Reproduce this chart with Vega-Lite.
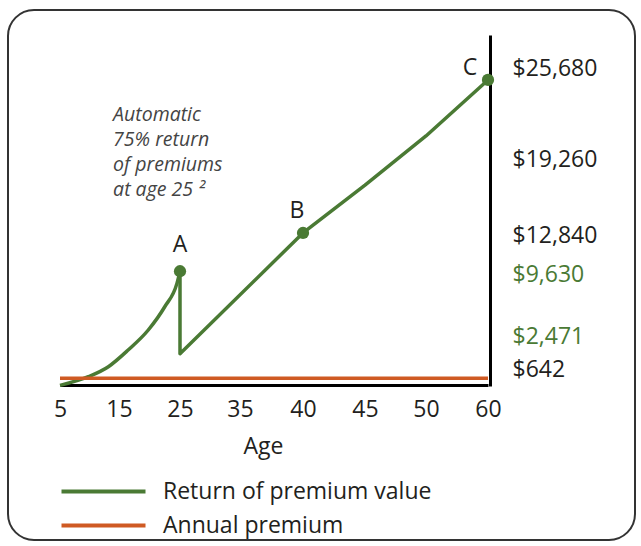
{
  "$schema": "https://vega.github.io/schema/vega-lite/v6.json",
  "width": 627,
  "height": 530,
  "autosize": {"type": "none"},
  "padding": {"left": 8, "top": 10, "right": 6, "bottom": 6},
  "background": "white",
  "config": {
    "view": {"stroke": "#333333", "strokeWidth": 2, "cornerRadius": 26},
    "font": "Open Sans"
  },
  "datasets": {
    "curve": [
      {"series": "Return of premium value", "age": 5, "value": 50},
      {"series": "Return of premium value", "age": 9.8, "value": 780},
      {"series": "Return of premium value", "age": 13.2, "value": 1620},
      {"series": "Return of premium value", "age": 16.5, "value": 3020},
      {"series": "Return of premium value", "age": 19.8, "value": 4700},
      {"series": "Return of premium value", "age": 22.5, "value": 6650},
      {"series": "Return of premium value", "age": 24.5, "value": 8610},
      {"series": "Return of premium value", "age": 25, "value": 9630}
    ],
    "lines": [
      {"series": "Return of premium value", "age": 25, "value": 9630, "step": 1},
      {"series": "Return of premium value", "age": 25, "value": 2700, "step": 2},
      {"series": "Return of premium value", "age": 40, "value": 12840, "step": 3},
      {"series": "Return of premium value", "age": 45, "value": 16850, "step": 4},
      {"series": "Return of premium value", "age": 50, "value": 20980, "step": 5},
      {"series": "Return of premium value", "age": 60, "value": 25680, "step": 6},
      {"series": "Annual premium", "age": 5, "value": 642, "step": 1},
      {"series": "Annual premium", "age": 60, "value": 642, "step": 2}
    ],
    "points": [
      {"label": "A", "age": 25, "value": 9630},
      {"label": "B", "age": 40, "value": 12840},
      {"label": "C", "age": 60, "value": 25680}
    ],
    "note": [
      {"age": 14, "value": 22240, "text": "Automatic\n75% return\nof premiums\nat age 25 ²"}
    ]
  },
  "encoding": {
    "x": {
      "field": "age",
      "type": "quantitative",
      "scale": {"domain": [5, 15, 25, 35, 40, 45, 50, 60], "range": [52, 111, 172, 232, 295, 357, 418, 480], "nice": false, "zero": false},
      "axis": {
        "orient": "bottom",
        "offset": -155,
        "values": [5, 15, 25, 35, 40, 45, 50, 60],
        "grid": false,
        "ticks": false,
        "domainColor": "#000000",
        "domainWidth": 3,
        "labelFontSize": 23,
        "labelColor": "#231f20",
        "labelPadding": 13,
        "labelFlush": false,
        "labelOverlap": false,
        "title": "Age",
        "titleFontSize": 23,
        "titleFontWeight": "normal",
        "titleColor": "#231f20",
        "titlePadding": 14,
        "titleX": 255,
        "titleAnchor": null
      }
    },
    "y": {
      "field": "value",
      "type": "quantitative",
      "scale": {"domain": [0, 29450], "range": [376, 25], "nice": false, "zero": false},
      "axis": {
        "orient": "right",
        "offset": -145,
        "values": [642, 2471, 9630, 12840, 19260, 25680],
        "format": "$,d",
        "grid": false,
        "ticks": false,
        "domainColor": "#000000",
        "domainWidth": 3,
        "labelFontSize": 23,
        "labelAlign": "left",
        "labelBaseline": "middle",
        "labelPadding": 22,
        "labelOverlap": false,
        "labelColor": {"condition": {"test": "datum.value == 9630 || datum.value == 2471", "value": "#4a7a34"}, "value": "#231f20"},
        "labelOffset": {
          "condition": [
            {"test": "datum.value == 2471", "value": -20},
            {"test": "datum.value == 642", "value": -9},
            {"test": "datum.value == 25680", "value": -11}
          ],
          "value": 3
        },
        "title": null
      }
    }
  },
  "layer": [
    {
      "data": {"name": "curve"},
      "mark": {"type": "line", "strokeWidth": 3.5, "strokeJoin": "round", "interpolate": "monotone"},
      "encoding": {
        "color": {
          "field": "series",
          "type": "nominal",
          "scale": {"domain": ["Return of premium value", "Annual premium"], "range": ["#4a7a34", "#cf5a23"]},
          "legend": {
            "orient": "none",
            "legendX": 84,
            "legendY": 470,
            "direction": "vertical",
            "title": null,
            "symbolType": "M-6,0H6",
            "symbolSize": 196,
            "symbolStrokeWidth": 4,
            "labelFontSize": 23,
            "labelColor": "#231f20",
            "labelLimit": 400,
            "labelOffset": 48,
            "rowPadding": 10,
            "padding": 0
          }
        }
      }
    },
    {
      "data": {"name": "lines"},
      "mark": {"type": "line", "strokeWidth": 3.5, "strokeJoin": "round"},
      "encoding": {
        "order": {"field": "step", "type": "quantitative"},
        "color": {"field": "series", "type": "nominal"}
      }
    },
    {
      "data": {"name": "points"},
      "mark": {"type": "point", "filled": true, "opacity": 1, "size": 150, "color": "#4a7a34"}
    },
    {
      "data": {"name": "points"},
      "transform": [{"filter": "datum.label == 'A'"}],
      "mark": {"type": "text", "fontSize": 23, "color": "#231f20", "dy": -26},
      "encoding": {"text": {"field": "label"}}
    },
    {
      "data": {"name": "points"},
      "transform": [{"filter": "datum.label == 'B'"}],
      "mark": {"type": "text", "fontSize": 23, "color": "#231f20", "dx": -6, "dy": -22},
      "encoding": {"text": {"field": "label"}}
    },
    {
      "data": {"name": "points"},
      "transform": [{"filter": "datum.label == 'C'"}],
      "mark": {"type": "text", "fontSize": 23, "color": "#231f20", "dx": -18, "dy": -12},
      "encoding": {"text": {"field": "label"}}
    },
    {
      "data": {"name": "note"},
      "mark": {"type": "text", "align": "left", "baseline": "alphabetic", "fontSize": 19.5, "fontStyle": "italic", "color": "#444444", "lineBreak": "\n", "lineHeight": 25},
      "encoding": {"text": {"field": "text"}}
    }
  ]
}
